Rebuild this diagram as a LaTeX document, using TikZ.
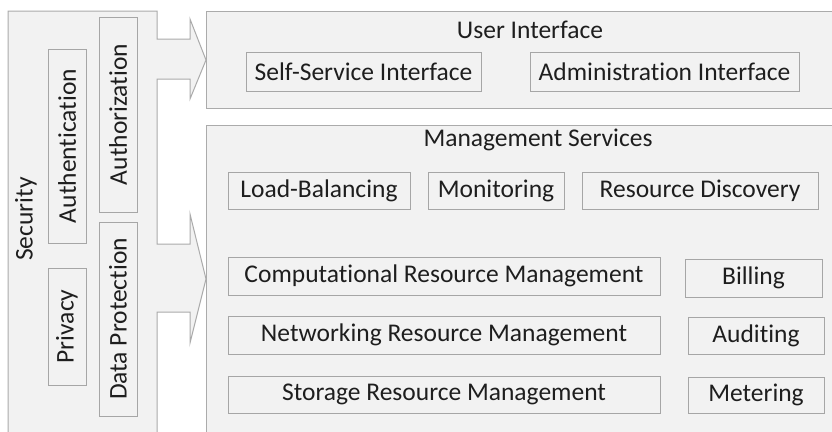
\documentclass[tikz,border=0pt]{standalone}
\usepackage{fontspec}
\setmainfont{Carlito}[Ligatures={NoCommon}]
\usetikzlibrary{shadows}
\definecolor{boxfill}{HTML}{F2F2F2}
\definecolor{boxline}{HTML}{A6A6A6}
\definecolor{outline}{HTML}{ABABAB}
\definecolor{txt}{HTML}{1E1E1E}
\begin{document}
\begin{tikzpicture}[x=1pt,y=-1pt,
  every node/.style={font=\fontsize{25.5}{30}\selectfont, text=txt},
  ibox/.style={draw=boxline, fill=boxfill, line width=0.9pt, inner sep=0pt,
    drop shadow={shadow xshift=1.2pt, shadow yshift=-1.2pt, fill=black, opacity=0.12}},
  obox/.style={draw=outline, fill=boxfill, line width=1pt, inner sep=0pt},
  vbox/.style={ibox, rotate=90},
  title/.style={inner sep=0pt}
]
\useasboundingbox (0,0) rectangle (832,431);
\fill[white] (0,0) rectangle (832,431);
% Security shape with two arrows
\draw[draw=outline, fill=boxfill, line width=1pt]
  (8,445) -- (8,11) -- (157,11) -- (157,39) -- (190,39) -- (190,19) -- (206,60)
  -- (190,99) -- (190,79) -- (157,79) -- (157,244) -- (190,244) -- (190,214)
  -- (206,279) -- (190,343) -- (190,312) -- (157,312) -- (157,445);
\node[title, rotate=90] (sec) at (26,219) {Security};
\node[vbox, minimum width=194, minimum height=38] (authn) at (67,146) {Authentication};
\node[vbox, minimum width=195, minimum height=38] (authz) at (118,114.5) {Authorization};
\node[vbox, minimum width=117, minimum height=38] (priv) at (67,326.5) {Privacy};
\node[vbox, minimum width=194, minimum height=38] (dp) at (118,319) {Data Protection};
% User interface
\node[obox, minimum width=634, minimum height=97] (ui) at (523,59.5) {};
\node[title] (uit) at (530,30) {User Interface};
\node[ibox, minimum width=235, minimum height=39] (self) at (363.5,71.5) {Self-Service Interface};
\node[ibox, minimum width=269, minimum height=39] (admin) at (664.5,71.5) {Administration Interface};
% Management services
\node[obox, minimum width=634, minimum height=315] (ms) at (523,282.5) {};
\node[title] (mst) at (538,140) {Management Services};
\node[ibox, minimum width=182, minimum height=37] (lb) at (319,190.5) {Load-Balancing};
\node[ibox, minimum width=136, minimum height=37] (mon) at (496,190.5) {Monitoring};
\node[ibox, minimum width=236, minimum height=37] (rd) at (700,190.5) {Resource Discovery};
\node[ibox, minimum width=432, minimum height=38] (comp) at (444,276) {Computational Resource Management};
\node[ibox, minimum width=137, minimum height=38] (bill) at (753.5,278) {Billing};
\node[ibox, minimum width=432, minimum height=38] (net) at (444,335) {Networking Resource Management};
\node[ibox, minimum width=136, minimum height=37] (aud) at (756,335.5) {Auditing};
\node[ibox, minimum width=432, minimum height=37] (stor) at (444,394.5) {Storage Resource Management};
\node[ibox, minimum width=136, minimum height=36] (met) at (756,395) {Metering};
\end{tikzpicture}
\end{document}
